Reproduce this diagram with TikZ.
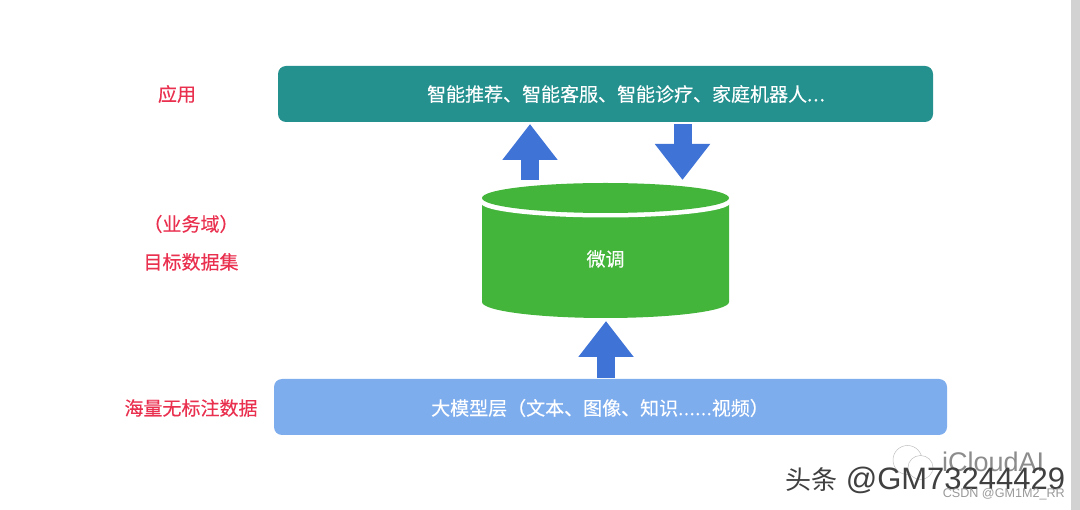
\documentclass[tikz,border=0pt]{standalone}
\usepackage{fontspec}
\setmainfont[FakeBold=0.3]{Noto Sans CJK SC}
\setsansfont{Liberation Sans}
\newfontfamily\plaincjk{Noto Sans CJK SC}
\usetikzlibrary{arrows.meta}
\definecolor{appteal}{HTML}{25918F}
\definecolor{lakeblue}{HTML}{7EADEE}
\definecolor{tunegreen}{HTML}{43B53B}
\definecolor{arrowblue}{HTML}{3F74D6}
\definecolor{labelred}{HTML}{E9304F}
\tikzset{
  layerbox/.style={rounded corners=8pt,minimum height=56pt,inner sep=0pt},
  boxtext/.style={text=white,font=\fontsize{19}{23}\selectfont,inner sep=0pt},
  sidelabel/.style={text=labelred,font=\fontsize{19}{23}\selectfont,inner sep=0pt},
  fatarrow/.style={arrowblue,line width=18pt,-{Triangle[length=36pt,width=53pt,sep=0pt]}},
}
\begin{document}
\begin{tikzpicture}[x=1pt,y=-1pt]
\useasboundingbox (0,0) rectangle (1080,510);
\fill[gray!35] (1071,0) rectangle (1080,510);
\node[layerbox,fill=appteal,minimum width=655pt] (app) at (605.5,94) {};
\node[layerbox,fill=lakeblue,minimum width=673pt] (lake) at (610.5,407) {};
\node[boxtext] (apptext) at (626,94) {智能推荐、智能客服、智能诊疗、家庭机器人.\kern1pt.\kern1pt.};
\node[boxtext] (laketext) at (600,408) {大模型层（文本、图像、知识.\kern.4pt.\kern.4pt.\kern.4pt.\kern.4pt.\kern.4pt.视频）};
% tank
\fill[tunegreen] (482,203) -- (482,302) arc[start angle=180,end angle=360,x radius=123.5,y radius=-16] -- (729,203) -- cycle;
\fill[white] (605.5,203) ellipse[x radius=124.5,y radius=14.5];
\fill[tunegreen] (605.5,198) ellipse[x radius=123.5,y radius=15];
\node[boxtext] (tank) at (605.5,259) {微调};
% labels
\node[sidelabel] (applabel) at (177,94) {应用};
\node[sidelabel] (domainlabel) at (191,224) {（业务域）};
\node[sidelabel] (targetlabel) at (191,262) {目标数据集};
\node[sidelabel] (lakelabel) at (191,408) {海量无标注数据};
% arrows
\coordinate (upfoot) at (530,180);
\coordinate (uptip) at (530,124);
\coordinate (downtop) at (682.5,124);
\coordinate (downtip) at (682.5,180);
\coordinate (lakefoot) at (606,378);
\coordinate (laketip) at (606,321);
\draw[fatarrow] (upfoot)--(uptip);
\draw[fatarrow] (downtop)--(downtip);
\draw[fatarrow] (lakefoot)--(laketip);
% watermarks
\draw[black!25,line width=.5pt] (907.5,460) ellipse[x radius=14.5,y radius=14.5];
\draw[black!25,line width=.5pt,fill=white] (920.5,467.5) ellipse[x radius=12.5,y radius=12];
\node[text=black!45,font=\fontsize{27}{32}\sffamily\selectfont,inner sep=0pt,anchor=west] (cloud) at (942,462) {iCloudAI};
\node[text=black!75,font=\fontsize{31}{36}\sffamily\selectfont,inner sep=0pt,anchor=west] (mark) at (785,480) {{\plaincjk\fontsize{26}{30}\selectfont 头条} @GM73244429};
\node[text=black!40,font=\fontsize{12.6}{15}\sffamily\selectfont,inner sep=0pt,anchor=east] (csdn) at (1065,494) {CSDN @GM1M2\_RR};
\end{tikzpicture}
\end{document}
